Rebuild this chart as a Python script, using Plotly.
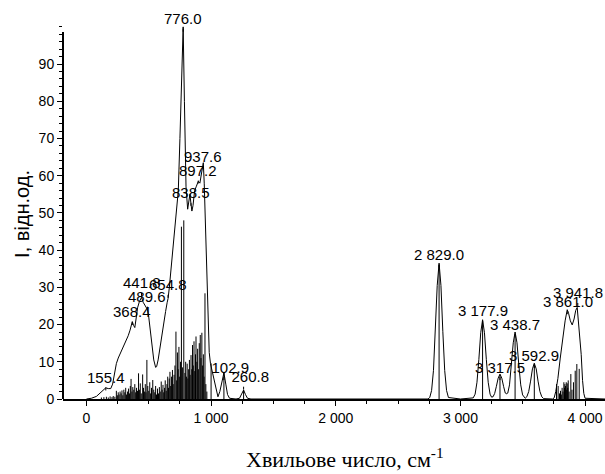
import plotly.graph_objects as go

# ---- envelope (broadened spectrum) ----
env_x = [0, 40, 80, 110, 135, 155, 175, 195, 210, 225, 240, 255, 275, 295, 315, 335, 350, 362, 368, 378, 388,
         398, 410, 425, 441.8, 455, 470, 482, 490, 500, 512, 525, 540, 555, 563, 575, 590, 605, 620, 635, 648,
         655, 665, 678, 692, 705, 720, 737, 750, 762, 776, 786, 799, 812, 822, 830, 838.5, 846, 855, 868, 880,
         897.2, 910, 925, 937.6, 945, 955, 965, 975, 985, 995, 1010, 1025, 1040, 1055, 1070, 1085, 1102.9,
         1118, 1132, 1148, 1200, 1228, 1245, 1260.8, 1276, 1292, 1320,
         2740, 2754, 2769, 2784, 2799, 2814, 2829, 2844, 2859, 2874, 2889, 2904, 3000,
         3103, 3118, 3133, 3148, 3163, 3177.9, 3193, 3208, 3223, 3238, 3250,
         3262, 3275, 3288, 3303, 3317.5, 3332, 3347, 3360, 3372,
         3380, 3394, 3409, 3424, 3438.7, 3454, 3469, 3484, 3499, 3514,
         3520, 3533, 3548, 3563, 3578, 3592.9, 3608, 3623, 3638, 3653, 3668,
         3740, 3752, 3765, 3782, 3801, 3822, 3840, 3857, 3868, 3882, 3897, 3912, 3925, 3937, 3950, 3960,
         3969, 3980, 3990, 4000, 4160]
env_y = [0.0, 0.2, 0.7, 1.6, 2.6, 3.0, 2.8, 2.8, 4.0, 7.0, 9.5, 11.0, 12.5, 13.8, 15.5, 17.0, 18.5, 20.0, 20.8,
         19.8, 19.2, 21.5, 24.5, 26.2, 27.3, 26.0, 25.0, 24.4, 24.0, 22.0, 18.5, 14.0, 10.5, 8.5, 8.7, 10.5,
         14.0, 17.0, 20.0, 23.5, 26.0, 27.0, 30.0, 34.7, 41.8, 46.5, 50.5, 56.0, 70.0, 85.0, 100.0, 80.0, 57.0,
         51.0, 53.5, 55.0, 52.5, 50.5, 52.0, 56.0, 57.0, 58.5, 58.0, 61.5, 63.5, 58.0, 47.0, 34.0, 21.0, 12.5,
         9.5, 7.2, 4.5, 2.0, 0.6, 2.0, 4.8, 7.0, 4.0, 1.2, 0.2, 0.0, 0.2, 1.2, 2.4, 1.2, 0.2, 0.0,
         0.0, 0.4, 2.3, 7.7, 18.2, 30.5, 36.5, 30.5, 18.2, 7.7, 2.3, 0.4, 0.0,
         0.3, 1.3, 4.5, 10.6, 17.8, 21.3, 17.8, 10.6, 4.5, 1.3, 0.5,
         0.6, 1.5, 3.3, 5.6, 6.7, 5.6, 3.3, 1.6, 1.4,
         1.6, 3.8, 9.0, 15.1, 18.0, 15.1, 9.0, 3.8, 1.1, 0.3,
         0.2, 0.6, 2.0, 4.8, 8.1, 9.6, 8.1, 4.8, 2.0, 0.6, 0.1,
         0.0, 0.3, 2.0, 5.5, 11.0, 16.5, 21.0, 24.0, 23.0, 21.0, 19.9, 21.5, 23.8, 24.6, 20.0, 16.0,
         12.0, 5.0, 1.5, 0.2, 0.0]
assert len(env_x) == len(env_y)

# ---- stick spectrum ----
stick_x = [120, 140, 160, 175, 190, 205, 215, 228, 240, 248, 255, 262, 270, 278, 285, 292, 300, 308, 315, 322,
           330, 338, 345, 352, 358, 365, 372, 380, 388, 395, 402, 410, 418, 425, 432, 440, 451, 458, 465, 472,
           478, 485, 492, 500, 508, 515, 522, 532, 540, 548, 555, 562, 570, 578, 585, 592, 600, 607, 614, 620,
           627, 632, 640, 646, 652, 658, 664, 670, 676, 683, 690, 696, 703, 710, 718, 724, 730, 736, 742, 748,
           755, 762, 770, 781, 790, 796, 802, 808, 814, 820, 826, 832, 839, 845, 851, 857, 863, 869, 875, 879,
           886, 892, 898, 905, 913, 919, 926, 932, 938, 944, 951, 958, 966, 1000, 1102.9, 1260.8,
           2829, 3177.9, 3317.5, 3438.7, 3592.9,
           3771, 3784, 3795, 3803, 3810, 3816, 3823, 3830, 3835, 3838, 3843, 3849, 3853, 3857, 3861, 3865,
           3872, 3886, 3895, 3907, 3921, 3934, 3953]
stick_y = [0.4, 0.5, 0.6, 0.4, 0.7, 0.5, 0.8, 0.6, 2.2, 1.0, 1.8, 1.2, 2.0, 1.5, 2.3, 1.0, 2.5, 1.8, 3.0, 1.2,
           2.0, 2.8, 1.5, 3.5, 5.4, 2.0, 3.2, 2.5, 4.0, 1.8, 3.0, 2.2, 6.9, 2.5, 4.2, 1.5, 6.6, 3.0, 2.0, 4.0,
           1.8, 10.5, 3.5, 2.2, 4.5, 1.5, 3.0, 5.1, 2.5, 1.8, 3.5, 1.2, 2.8, 1.5, 3.2, 2.0, 4.7, 2.5, 3.8, 1.8,
           3.0, 5.0, 2.2, 4.0, 6.0, 3.0, 5.5, 7.3, 3.5, 6.0, 7.8, 4.0, 6.5, 9.0, 18.1, 5.0, 12.5, 8.0, 14.0, 6.0,
           10.0, 46.3, 8.5, 48.0, 7.0, 10.0, 6.0, 9.5, 5.5, 8.0, 10.5, 6.5, 11.8, 8.0, 14.5, 9.0, 15.5, 7.5,
           12.0, 16.8, 10.0, 13.5, 8.0, 15.0, 17.2, 11.0, 17.8, 9.0, 12.0, 6.0, 28.4, 4.0, 2.0, 9.6, 7.0, 2.4,
           36.0, 21.0, 6.5, 17.5, 9.5,
           4.0, 3.5, 1.5, 2.2, 1.2, 3.0, 2.0, 4.5, 3.0, 4.0, 3.5, 4.5, 2.5, 4.2, 3.0, 5.0,
           2.0, 6.7, 2.5, 4.5, 7.6, 9.4, 8.1]
assert len(stick_x) == len(stick_y)

# ---- peak labels ----
label_x = [776.0, 937.6, 897.2, 838.5, 441.8, 654.8, 489.6, 368.4, 155.4, 1102.9, 1260.8,
           2829.0, 3177.9, 3317.5, 3438.7, 3592.9, 3861.0, 3941.8]
label_y = [98.7, 61.8, 57.9, 51.9, 27.7, 27.2, 24.0, 19.9, 2.3, 5.1, 2.5,
           35.3, 20.2, 5.1, 16.5, 8.3, 22.8, 25.0]
label_hidden = ["", "", "", "", "", "", "", "", "", "1 ", "1 ", "", "", "", "", "", "", ""]
label_text = ["776.0", "937.6", "897.2", "838.5", "441.8", "654.8", "489.6", "368.4", "155.4", "102.9", "260.8",
              "2 829.0", "3 177.9", "3 317.5", "3 438.7", "3 592.9", "3 861.0", "3 941.8"]

x_ticks = [0, 1000, 2000, 3000, 4000]
x_ticklabels = ["0", "1 000", "2 000", "3 000", "4 000"]
y_ticks = [0, 10, 20, 30, 40, 50, 60, 70, 80, 90]

sx, sy = [], []
for xv, yv in zip(stick_x, stick_y):
    sx += [xv, xv, None]
    sy += [0, yv, None]

fig = go.Figure()
fig.add_trace(go.Scatter(x=sx, y=sy, mode="lines", line=dict(color="black", width=1),
                         hoverinfo="skip", showlegend=False))
fig.add_trace(go.Scatter(x=env_x, y=env_y, mode="lines", line=dict(color="black", width=1),
                         showlegend=False))

ann = []
for xv, yv, h, t in zip(label_x, label_y, label_hidden, label_text):
    txt = (f"<span style='color:rgba(0,0,0,0)'>{h}</span>" if h else "") + t
    ann.append(dict(x=xv, y=yv, xref="x", yref="y", text=txt, showarrow=True, arrowhead=0,
                    arrowwidth=1, arrowcolor="black", ax=0, ay=-13,
                    font=dict(family="Liberation Sans, Arial", size=15, color="black")))

ann.append(dict(x=0.52, y=-0.158, xref="paper", yref="paper", showarrow=False,
                text="Хвильове число, см<sup>-1</sup>", xanchor="center", yanchor="middle",
                font=dict(family="Liberation Serif, Times New Roman", size=22, color="black")))
ann.append(dict(x=-0.0756, y=0.495, xref="paper", yref="paper", showarrow=False, textangle=-90,
                text="I, відн.од.", xanchor="center", yanchor="middle",
                font=dict(family="Liberation Sans, Arial", size=20, color="black")))

fig.update_layout(
    width=605, height=474,
    margin=dict(l=63, r=0, t=25, b=75),
    paper_bgcolor="white", plot_bgcolor="white",
    annotations=ann,
    shapes=[dict(type="line", xref="paper", yref="y", x0=0, x1=0, y0=0, y1=98.6,
                 line=dict(color="black", width=2))],
    xaxis=dict(range=[-188, 4160], tickvals=x_ticks, ticktext=x_ticklabels,
               ticks="outside", ticklen=5, tickwidth=1, tickcolor="black",
               showline=True, linecolor="black", linewidth=2, showgrid=False, zeroline=False,
               tickfont=dict(family="Liberation Sans, Arial", size=14, color="black"),
               minor=dict(tickmode="linear", tick0=0, dtick=250, ticks="outside", ticklen=3,
                          tickcolor="black", showgrid=False)),
    yaxis=dict(range=[0, 100.5], tickvals=y_ticks,
               ticks="outside", ticklen=5, tickwidth=1, tickcolor="black",
               showline=False, showgrid=False, zeroline=False,
               tickfont=dict(family="Liberation Sans, Arial", size=14, color="black"),
               minor=dict(tickmode="linear", tick0=0, dtick=2, ticks="outside", ticklen=3,
                          tickcolor="black", showgrid=False)),
)

fig.write_html("out.html")
